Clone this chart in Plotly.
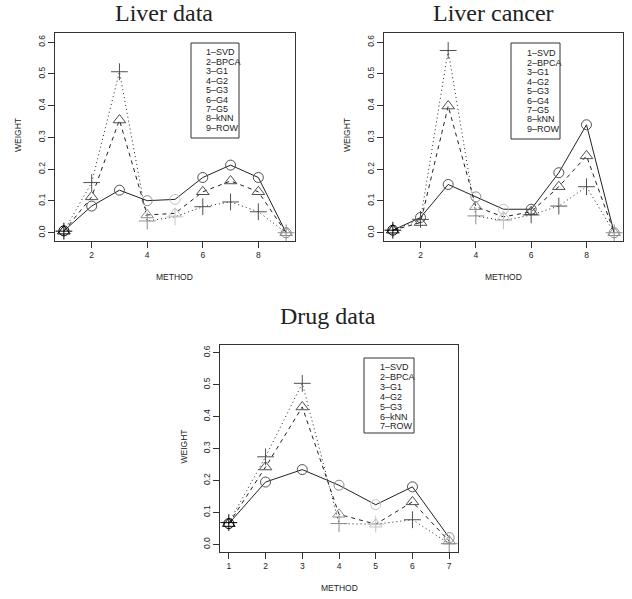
import plotly.graph_objects as go

W, H = 632, 599

# ---------------- data ----------------
liver_methods = [1, 2, 3, 4, 5, 6, 7, 8, 9]
liver_labels = ["1–SVD", "2–BPCA", "3–G1", "4–G2", "5–G3", "6–G4", "7–G5", "8–kNN", "9–ROW"]
liver_circle = [0.006, 0.084, 0.134, 0.101, 0.105, 0.174, 0.213, 0.174, 0.0]
liver_triangle = [0.005, 0.113, 0.355, 0.056, 0.061, 0.129, 0.163, 0.129, 0.0]
liver_plus = [0.005, 0.158, 0.507, 0.037, 0.050, 0.082, 0.097, 0.066, 0.0]

cancer_methods = [1, 2, 3, 4, 5, 6, 7, 8, 9]
cancer_labels = liver_labels
cancer_circle = [0.008, 0.048, 0.152, 0.113, 0.074, 0.074, 0.189, 0.340, 0.0]
cancer_triangle = [0.008, 0.032, 0.399, 0.082, 0.050, 0.066, 0.145, 0.242, 0.0]
cancer_plus = [0.008, 0.042, 0.574, 0.053, 0.038, 0.056, 0.084, 0.145, 0.0]

drug_methods = [1, 2, 3, 4, 5, 6, 7]
drug_labels = ["1–SVD", "2–BPCA", "3–G1", "4–G2", "5–G3", "6–kNN", "7–ROW"]
drug_circle = [0.065, 0.195, 0.234, 0.185, 0.124, 0.180, 0.021]
drug_triangle = [0.065, 0.242, 0.430, 0.094, 0.063, 0.133, 0.010]
drug_plus = [0.068, 0.274, 0.504, 0.065, 0.063, 0.077, 0.002]

# per-method marker greys
BLK, DRK, MID, LGT = "#000000", "#505050", "#8c8c8c", "#c4c4c4"
liver_cols = [BLK, DRK, DRK, MID, LGT, DRK, DRK, DRK, MID]
cancer_cols = [BLK, DRK, DRK, MID, LGT, DRK, DRK, DRK, MID]
drug_cols = [BLK, DRK, DRK, MID, LGT, DRK, MID]

y_ticks = [0.0, 0.1, 0.2, 0.3, 0.4, 0.5, 0.6]


def px(x):
    return x / W


def py(y):
    return 1 - y / H


fig = go.Figure()

LINECOL = "#222222"
styles = [
    ("circle-open", 10, "solid"),
    ("triangle-up-open", 11, "4px,4px"),
    ("cross-thin-open", 12, "1px,3px"),
]

panels = [
    ("x", "y", liver_methods, [liver_circle, liver_triangle, liver_plus], liver_cols),
    ("x2", "y2", cancer_methods, [cancer_circle, cancer_triangle, cancer_plus], cancer_cols),
    ("x3", "y3", drug_methods, [drug_circle, drug_triangle, drug_plus], drug_cols),
]

for xa, ya, xs, series, cols in panels:
    for (sym, sz, dash), ys in zip(styles, series):
        fig.add_trace(go.Scatter(
            x=xs, y=ys, xaxis=xa, yaxis=ya, mode="lines+markers",
            line=dict(color=LINECOL, width=1, dash=dash),
            marker=dict(symbol=sym, size=sz, color=cols, line=dict(width=1, color=cols)),
            showlegend=False, hoverinfo="x+y",
        ))

FONT = "Liberation Sans, Arial, sans-serif"
TICKFONT = dict(family=FONT, size=8.5, color="#222")


def xaxis(domain, rng, tickvals, anchor):
    return dict(domain=domain, range=rng, anchor=anchor, tickvals=tickvals,
                ticktext=[str(v) for v in tickvals],
                showline=True, mirror=True, linecolor="#333", linewidth=1,
                ticks="outside", ticklen=6, tickcolor="#333", tickwidth=1,
                showgrid=False, zeroline=False, tickfont=TICKFONT, fixedrange=True)


def yaxis(domain, rng, anchor):
    return dict(domain=domain, range=rng, anchor=anchor, tickvals=y_ticks,
                ticktext=[f"{v:.1f}" for v in y_ticks], tickangle=-90,
                showline=True, mirror=True, linecolor="#333", linewidth=1,
                ticks="outside", ticklen=6, tickcolor="#333", tickwidth=1,
                showgrid=False, zeroline=False, tickfont=TICKFONT, fixedrange=True)


# plot boxes (pixels)
box1 = (55, 295, 33, 241)
box2 = (384, 623, 33, 241)
box3 = (220, 458, 345, 552)

fig.update_layout(
    width=W, height=H, margin=dict(l=0, r=0, t=0, b=0),
    paper_bgcolor="white", plot_bgcolor="white",
    xaxis=xaxis([px(box1[0]), px(box1[1])], [0.68, 9.32], [2, 4, 6, 8], "y"),
    yaxis=yaxis([py(box1[3]), py(box1[2])], [-0.026, 0.629], "x"),
    xaxis2=xaxis([px(box2[0]), px(box2[1])], [0.68, 9.32], [2, 4, 6, 8], "y2"),
    yaxis2=yaxis([py(box2[3]), py(box2[2])], [-0.026, 0.629], "x2"),
    xaxis3=xaxis([px(box3[0]), px(box3[1])], [0.76, 7.24], drug_methods, "y3"),
    yaxis3=yaxis([py(box3[3]), py(box3[2])], [-0.024, 0.624], "x3"),
)

ann = []
shapes = []
TITLEFONT = dict(family="Liberation Serif, Times New Roman, serif", size=24, color="#222")
LABFONT = dict(family=FONT, size=8.5, color="#222")
LEGFONT = dict(family=FONT, size=9, color="#222")

titles = [("Liver data", 164, 13), ("Liver cancer", 493, 13), ("Drug data", 328, 316)]
for t, x, y in titles:
    ann.append(dict(text=t, x=px(x), y=py(y), xref="paper", yref="paper",
                    showarrow=False, font=TITLEFONT, xanchor="center", yanchor="middle"))

for box in (box1, box2, box3):
    cx = (box[0] + box[1]) / 2
    cy = (box[2] + box[3]) / 2
    ann.append(dict(text="METHOD", x=px(cx), y=py(box[3] + 36), xref="paper", yref="paper",
                    showarrow=False, font=LABFONT, xanchor="center", yanchor="middle"))
    ann.append(dict(text="WEIGHT", x=px(box[0] - 37), y=py(cy - 2), xref="paper", yref="paper",
                    showarrow=False, font=LABFONT, textangle=-90,
                    xanchor="center", yanchor="middle"))

legends = [
    (liver_labels, (191, 239, 43, 138), 204, 52, 9.5),
    (cancer_labels, (511, 560, 43, 139), 525, 53, 9.5),
    (drug_labels, (364, 414, 358, 433), 378, 367, 9.9),
]
for labels, (x0, x1, y0, y1), tx, ty0, dy in legends:
    shapes.append(dict(type="rect", xref="paper", yref="paper",
                       x0=px(x0), x1=px(x1), y0=py(y1), y1=py(y0),
                       line=dict(color="#333", width=1), fillcolor="white", layer="below"))
    for i, lab in enumerate(labels):
        ann.append(dict(text=lab, x=px(tx), y=py(ty0 + i * dy), xref="paper", yref="paper",
                        showarrow=False, font=LEGFONT, xanchor="left", yanchor="middle"))

fig.update_layout(annotations=ann, shapes=shapes)
fig.write_html("out.html")
